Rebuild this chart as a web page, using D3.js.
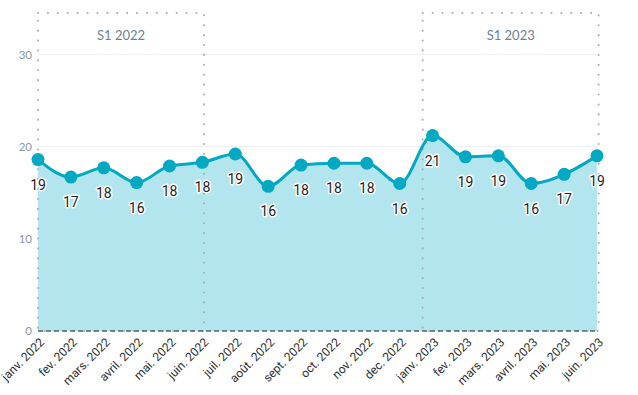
<!DOCTYPE html>
<html>
<head>
<meta charset="utf-8">
<script src="https://cdn.jsdelivr.net/npm/d3@7"></script>
<style>
  body { margin: 0; background: #fff; }
  svg { display: block; }
</style>
</head>
<body>
<div id="chart"></div>
<script>
// Data
const months = ["janv. 2022", "fev. 2022", "mars. 2022", "avril. 2022", "mai. 2022", "juin. 2022",
  "juil. 2022", "août. 2022", "sept. 2022", "oct. 2022", "nov. 2022", "dec. 2022",
  "janv. 2023", "fev. 2023", "mars. 2023", "avril. 2023", "mai. 2023", "juin. 2023"];
const values = [18.6, 16.7, 17.7, 16.1, 17.9, 18.3, 19.2, 15.7, 18.0, 18.2, 18.2, 16.0,
  21.2, 18.9, 19.0, 16.0, 17.0, 19.0];
const yTicks = [0, 10, 20, 30];
const bandLabels = ["S1 2022", "S1 2023"];
const bandStart = [0, 11.7];
const bandEnd = [5.05, 17.05];

const width = 638;
const height = 395;
const margin = { top: 13, right: 41, bottom: 64, left: 38 };

const svg = d3.select("#chart")
  .append("svg")
  .attr("width", width)
  .attr("height", height);

const x = d3.scaleLinear()
  .domain([0, months.length - 1])
  .range([margin.left, width - margin.right]);

const y = d3.scaleLinear()
  .domain([0, 34.5])
  .range([height - margin.bottom, margin.top]);

// grid lines
svg.append("g")
  .selectAll("line")
  .data(yTicks.filter(d => d > 0))
  .enter().append("line")
  .attr("x1", x(0))
  .attr("x2", x(months.length - 1))
  .attr("y1", d => y(d))
  .attr("y2", d => y(d))
  .attr("stroke", "#eceff3")
  .attr("stroke-width", 1);

// y labels
svg.append("g")
  .selectAll("text")
  .data(yTicks)
  .enter().append("text")
  .attr("x", margin.left - 6)
  .attr("y", d => y(d))
  .attr("dy", "0.35em")
  .attr("text-anchor", "end")
  .attr("font-family", "Lato, 'Open Sans', sans-serif")
  .attr("font-size", "11.5px")
  .attr("fill", "#8a98ab")
  .text(d => d);

// area + line
const area = d3.area()
  .x((d, i) => x(i))
  .y0(y(0))
  .y1(d => y(d))
  .curve(d3.curveMonotoneX);

const line = d3.line()
  .x((d, i) => x(i))
  .y(d => y(d))
  .curve(d3.curveMonotoneX);

svg.append("path")
  .datum(values)
  .attr("d", area)
  .attr("fill", "#b2e5ed");

// bands (dotted rectangles)
const bands = bandLabels.map((label, i) => ({ label, start: bandStart[i], end: bandEnd[i] }));

svg.append("g")
  .selectAll("rect")
  .data(bands)
  .enter().append("rect")
  .attr("x", d => x(d.start))
  .attr("y", y(34.5))
  .attr("width", d => x(d.end) - x(d.start))
  .attr("height", y(0) - y(34.5))
  .attr("fill", "none")
  .attr("stroke", "#a9adb3")
  .attr("stroke-width", 2)
  .attr("stroke-linecap", "round")
  .attr("stroke-dasharray", "0.1,9.8");

svg.append("g")
  .selectAll("text")
  .data(bands)
  .enter().append("text")
  .attr("x", d => (x(d.start) + x(d.end)) / 2)
  .attr("y", 40)
  .attr("text-anchor", "middle")
  .attr("font-family", "Lato, 'Open Sans', sans-serif")
  .attr("font-size", "13px")
  .attr("fill", "#6f8096")
  .text(d => d.label);

svg.append("path")
  .datum(values)
  .attr("d", line)
  .attr("fill", "none")
  .attr("stroke", "#03a8c2")
  .attr("stroke-width", 3);

// x axis line
svg.append("line")
  .attr("x1", x(0))
  .attr("x2", x(months.length - 1))
  .attr("y1", y(0))
  .attr("y2", y(0))
  .attr("stroke", "#55606b")
  .attr("stroke-width", 1.5)
  .attr("stroke-dasharray", "5,3");

// points
svg.append("g")
  .selectAll("circle")
  .data(values)
  .enter().append("circle")
  .attr("cx", (d, i) => x(i))
  .attr("cy", d => y(d))
  .attr("r", 6.5)
  .attr("fill", "#03a8c2");

// value labels
svg.append("g")
  .selectAll("text")
  .data(values)
  .enter().append("text")
  .attr("x", (d, i) => x(i))
  .attr("y", d => y(d) + 30)
  .attr("text-anchor", "middle")
  .attr("font-family", "Roboto, sans-serif")
  .attr("font-size", "14px")
  .attr("fill", "#1f2326")
  .attr("stroke", "#fff")
  .attr("stroke-width", 3)
  .attr("stroke-linejoin", "round")
  .attr("paint-order", "stroke")
  .text(d => Math.round(d));

// x labels
svg.append("g")
  .selectAll("text")
  .data(months)
  .enter().append("text")
  .attr("transform", (d, i) => `translate(${x(i) + 4},${y(0) + 9}) rotate(-45)`)
  .attr("text-anchor", "end")
  .attr("dy", "0.35em")
  .attr("font-family", "Roboto, sans-serif")
  .attr("font-size", "12px")
  .attr("fill", "#2b2f33")
  .text(d => d);
</script>
</body>
</html>
